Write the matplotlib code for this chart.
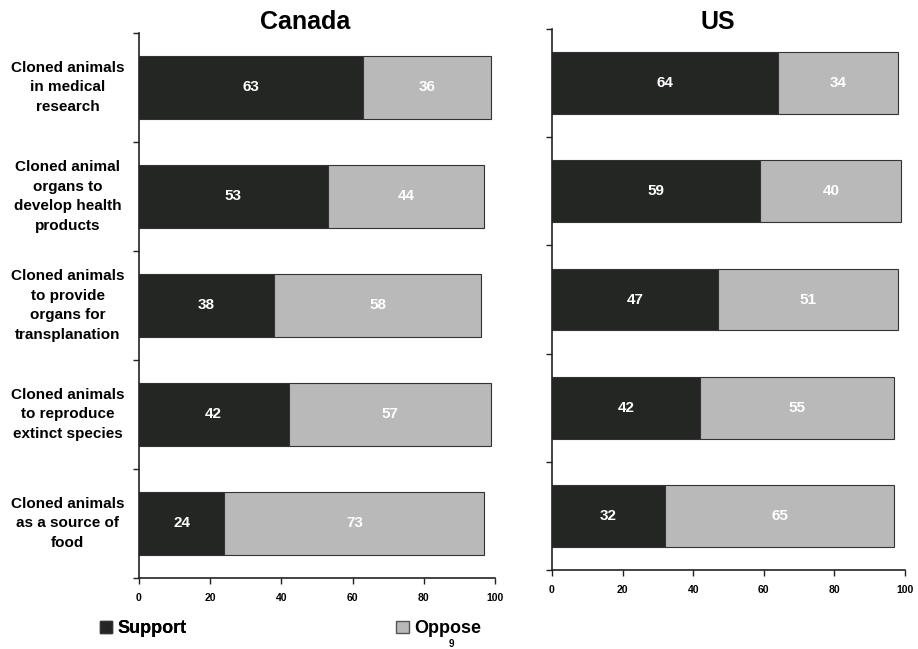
import matplotlib
matplotlib.use('Agg')
import matplotlib.pyplot as plt
from matplotlib.patches import Patch
import numpy as np

plt.rcParams['font.family'] = ['Liberation Sans', 'DejaVu Sans']
plt.rcParams['font.weight'] = 'bold'

categories = [
    'Cloned animals\nin medical\nresearch',
    'Cloned animal\norgans to\ndevelop health\nproducts',
    'Cloned animals\nto provide\norgans for\ntransplanation',
    'Cloned animals\nto reproduce\nextinct species',
    'Cloned animals\nas a source of\nfood',
]
canada_support = [63, 53, 38, 42, 24]
canada_oppose = [36, 44, 58, 57, 73]
us_support = [64, 59, 47, 42, 32]
us_oppose = [34, 40, 51, 55, 65]
x_ticks = [0, 20, 40, 60, 80, 100]

DARK = '#232623'
LIGHT = '#b9b9b9'

fig = plt.figure(figsize=(9.18, 6.49), dpi=100)
ax_ca = fig.add_axes([0.1514, 0.1094, 0.3878, 0.8398])
ax_us = fig.add_axes([0.6013, 0.1217, 0.3845, 0.8336])


def draw_panel(ax, support, oppose):
    y = np.arange(len(support))
    ax.barh(y, support, height=0.57, color=DARK, edgecolor='#333333', linewidth=0.8)
    ax.barh(y, oppose, left=support, height=0.57, color=LIGHT,
            edgecolor='#333333', linewidth=0.8)
    for yi, s, o in zip(y, support, oppose):
        ax.text(s / 2, yi, str(s), color='white', fontsize=11,
                fontweight='bold', ha='center', va='center')
        ax.text(s + o / 2, yi, str(o), color='white', fontsize=11,
                fontweight='bold', ha='center', va='center')
    ax.set_xlim(0, 100)
    ax.set_ylim(len(support) - 0.5, -0.5)
    ax.set_xticks(x_ticks)
    ax.set_xticklabels([str(t) for t in x_ticks], fontsize=7.5, fontweight='bold')
    ax.set_yticks(np.arange(len(support) + 1) - 0.5)
    ax.set_yticklabels([])
    ax.tick_params(axis='both', length=4, width=1, color='#222222', pad=7)
    for side in ('top', 'right'):
        ax.spines[side].set_visible(False)
    for side in ('left', 'bottom'):
        ax.spines[side].set_linewidth(1.2)
        ax.spines[side].set_color('#222222')


draw_panel(ax_ca, canada_support, canada_oppose)
draw_panel(ax_us, us_support, us_oppose)

# panel titles share one baseline
fig.text(0.332, 0.966, 'Canada', fontsize=18, fontweight='bold', ha='center', va='center')
fig.text(0.782, 0.966, 'US', fontsize=18, fontweight='bold', ha='center', va='center')

# category labels sit to the left of the Canada panel
for i, label in enumerate(categories):
    ax_ca.text(-0.20, i, label, transform=ax_ca.get_yaxis_transform(),
               ha='center', va='center', fontsize=11, fontweight='bold',
               linespacing=1.5)

leg_support = fig.legend(handles=[Patch(facecolor=DARK, edgecolor='#333333', label='Support')],
                         loc='center left', bbox_to_anchor=(0.091, 0.031),
                         frameon=False, handlelength=0.7, handleheight=0.7,
                         handletextpad=0.3, prop={'weight': 'bold', 'size': 13})
fig.add_artist(leg_support)
fig.legend(handles=[Patch(facecolor=LIGHT, edgecolor='#555555', label='Oppose')],
           loc='center left', bbox_to_anchor=(0.414, 0.031),
           frameon=False, handlelength=0.7, handleheight=0.7,
           handletextpad=0.3, prop={'weight': 'bold', 'size': 13})
fig.text(0.492, 0.0, '9', fontsize=7, ha='center', va='bottom')

fig.savefig('out.png', dpi=100, facecolor='white')
